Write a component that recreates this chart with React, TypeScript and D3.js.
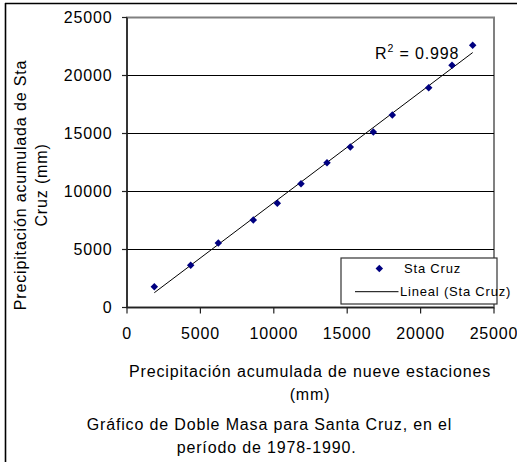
import React from "react";
import * as d3 from "d3";

const xValues = [1860, 4340, 6219, 8604, 10238, 11853, 13624, 15211, 16778, 18072, 20552, 22139, 23549];
const yValues = [1793, 3638, 5560, 7543, 8983, 10672, 12483, 13836, 15129, 16595, 18948, 20879, 22603];
const xTicks = [0, 5000, 10000, 15000, 20000, 25000];
const yTicks = [0, 5000, 10000, 15000, 20000, 25000];
const seriesName = "Sta Cruz";
const trendName = "Lineal (Sta Cruz)";
const r2Text = "0.998";
const yTitle = ["Precipitación acumulada de Sta", "Cruz (mm)"];
const xTitle = ["Precipitación acumulada de nueve estaciones", "(mm)"];
const caption = ["Gráfico de Doble Masa para Santa Cruz, en el", "período de 1978-1990."];

const W = 517;
const H = 462;
const FONT = "'Liberation Sans', Arial, sans-serif";
const LS = "0.85px";

export default function App() {
  const x = d3.scaleLinear().domain([0, 25000]).range([127, 494]);
  const y = d3.scaleLinear().domain([0, 25000]).range([307.5, 17.5]);

  // least squares trendline
  const n = xValues.length;
  const mx = d3.mean(xValues) as number;
  const my = d3.mean(yValues) as number;
  let sxy = 0, sxx = 0;
  for (let i = 0; i < n; i++) {
    sxy += (xValues[i] - mx) * (yValues[i] - my);
    sxx += (xValues[i] - mx) * (xValues[i] - mx);
  }
  const slope = sxy / sxx;
  const intercept = my - slope * mx;
  const [x0, x1] = d3.extent(xValues) as [number, number];
  const line = d3.line<number>().x((d) => x(d)).y((d) => y(slope * d + intercept));

  const diamond = d3.symbol(d3.symbolSquare, 28)() as string;

  const [xl, xr] = x.range();
  const [yb, yt] = y.range();

  return (
    <svg
      width={W}
      height={H}
      style={{ position: "absolute", left: 0, top: 0, background: "#fff" }}
      fontFamily={FONT}
    >
      <rect x={0} y={0} width={W} height={H} fill="#fff" />
      {/* outer frame */}
      <line x1={5.5} y1={3} x2={5.5} y2={H} stroke="#000" strokeWidth={1.6} />
      <line x1={5} y1={3.5} x2={W} y2={3.5} stroke="#000" strokeWidth={1.6} />

      {/* plot area border */}
      <rect x={xl} y={yt} width={xr - xl} height={yb - yt} fill="#fff" stroke="#808080" strokeWidth={2} />
      {/* gridlines */}
      {yTicks
        .filter((t) => t > 0 && t < 25000)
        .map((t) => (
          <line key={"g" + t} x1={xl} x2={xr} y1={y(t)} y2={y(t)} stroke="#000" strokeWidth={1} />
        ))}
      {/* axes */}
      <line x1={xl} x2={xl} y1={yt} y2={yb} stroke="#222" strokeWidth={1.6} />
      <line x1={xl} x2={xr} y1={yb} y2={yb} stroke="#222" strokeWidth={1.6} />
      {yTicks.map((t) => (
        <g key={"yt" + t}>
          <line x1={xl - 5} x2={xl} y1={y(t)} y2={y(t)} stroke="#222" strokeWidth={1.2} />
          <text x={112.5} y={y(t) + 5.8} textAnchor="end" fontSize={16} letterSpacing={LS} fill="#000">
            {t}
          </text>
        </g>
      ))}
      {xTicks.map((t) => (
        <g key={"xt" + t}>
          <line x1={x(t)} x2={x(t)} y1={yb} y2={yb + 6} stroke="#222" strokeWidth={1.2} />
          <text x={x(t)} y={339} textAnchor="middle" fontSize={16} letterSpacing={LS} fill="#000">
            {t}
          </text>
        </g>
      ))}

      {/* trendline */}
      <path d={line([x0, x1]) as string} fill="none" stroke="#000" strokeWidth={1} />

      {/* points */}
      {xValues.map((v, i) => (
        <path
          key={"p" + i}
          d={diamond}
          transform={`translate(${x(v)},${y(yValues[i])}) rotate(45)`}
          fill="#000080"
        />
      ))}

      {/* R² label */}
      <text x={375} y={59.3} fontSize={16} letterSpacing={LS} fill="#000">
        R<tspan dy={-7} fontSize={10.5}>2</tspan>
        <tspan dy={7}> = {r2Text}</tspan>
      </text>

      {/* legend */}
      <rect x={341} y={258} width={156} height={46} fill="#fff" stroke="#333" strokeWidth={1.2} />
      <path d={diamond} transform="translate(379.3,268.5) rotate(45)" fill="#000080" />
      <text x={404} y={273} fontSize={13} letterSpacing="0.8px" fill="#000">
        {seriesName}
      </text>
      <line x1={355} x2={398.5} y1={291.7} y2={291.7} stroke="#000" strokeWidth={1} />
      <text x={400} y={296} fontSize={13} letterSpacing="0.8px" fill="#000">
        {trendName}
      </text>

      {/* y title */}
      {yTitle.map((s, i) => (
        <text
          key={"yti" + i}
          transform={`translate(${26 + i * 20.5},185) rotate(-90)`}
          textAnchor="middle"
          fontSize={16}
          letterSpacing={LS}
          fill="#000"
        >
          {s}
        </text>
      ))}

      {/* x title */}
      {xTitle.map((s, i) => (
        <text key={"xti" + i} x={310} y={376.5 + i * 23} textAnchor="middle" fontSize={16} letterSpacing={LS} fill="#000">
          {s}
        </text>
      ))}

      {/* caption */}
      <text x={86.7} y={430} fontSize={16} letterSpacing={LS} fill="#000">
        {caption[0]}
      </text>
      <text x={176.7} y={453} fontSize={16} letterSpacing={LS} fill="#000">
        {caption[1]}
      </text>
    </svg>
  );
}
